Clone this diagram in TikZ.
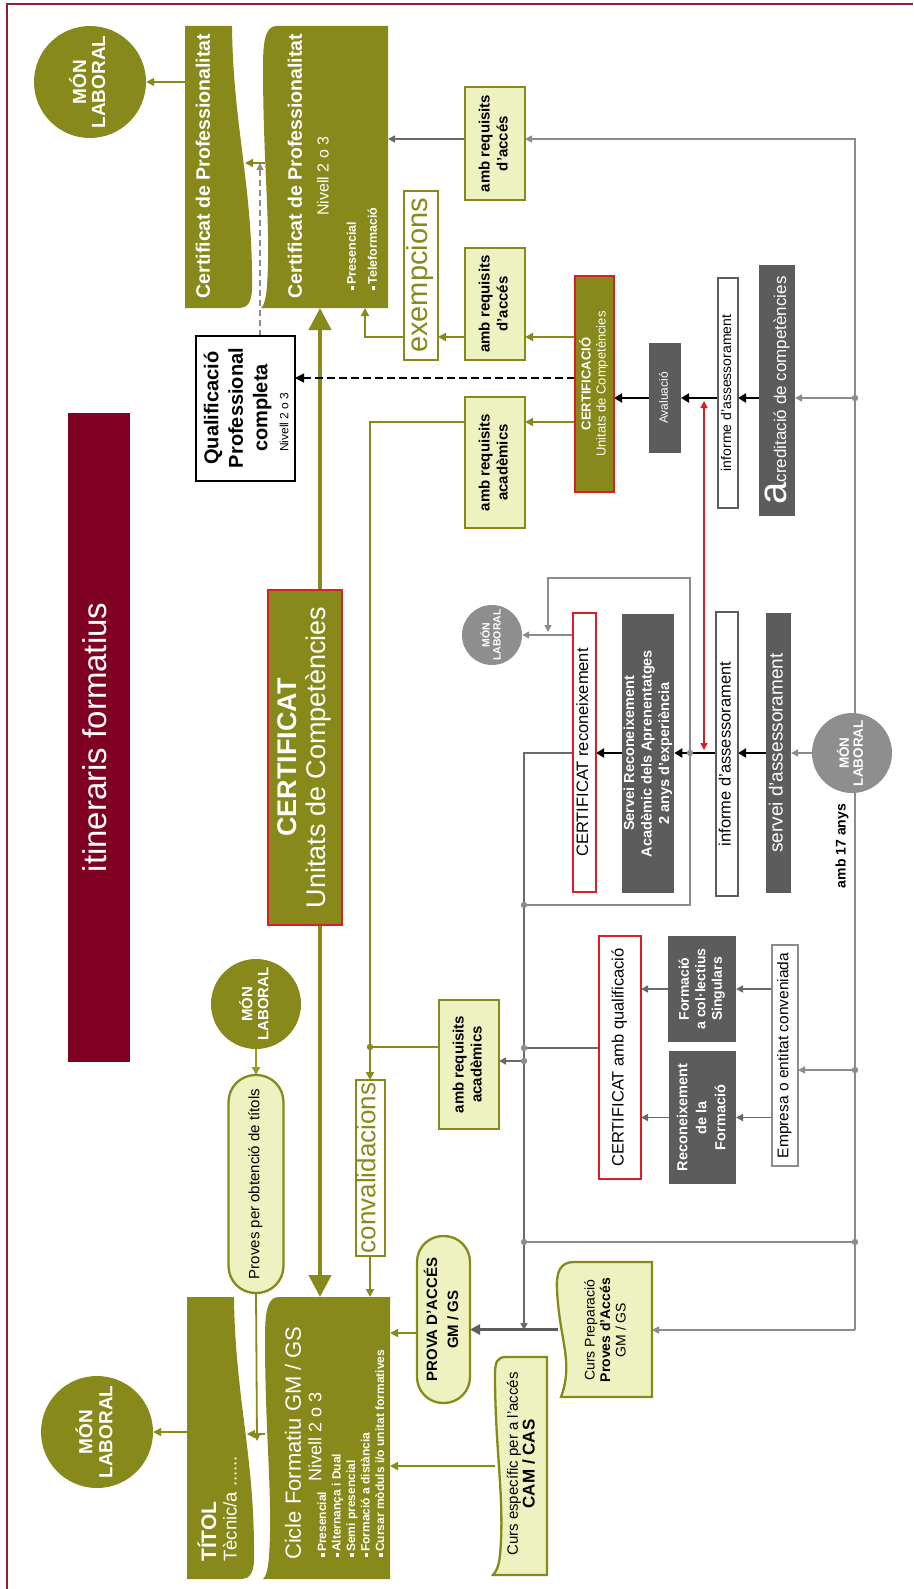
\documentclass[tikz,border=0pt]{standalone}
\usepackage{fontspec}
\setmainfont{Liberation Sans}
\usepackage{graphicx}
\usetikzlibrary{arrows.meta,backgrounds}
\definecolor{olv}{RGB}{135,138,26}
\definecolor{lyel}{RGB}{238,242,192}
\definecolor{dgr}{RGB}{92,92,92}
\definecolor{mgr}{RGB}{105,105,105}
\definecolor{lgr}{RGB}{140,140,140}
\definecolor{cgr}{RGB}{142,142,142}
\definecolor{wine}{RGB}{128,0,35}
\definecolor{rred}{RGB}{222,28,38}
\definecolor{frm}{RGB}{145,30,50}
\newcommand{\fsz}[2]{\fontsize{#1}{#2}\selectfont}
\newcommand{\rtx}[2]{\rotatebox{90}{#1\begin{tabular}{@{}c@{}}#2\end{tabular}}}
\newcommand{\sqb}{\rule[0.12em]{0.3em}{0.3em}\hspace{0.12em}}
\newcommand{\twopiece}{%
 \fill[olv] (0,0) -- (47,0) .. controls (48,100) and (68,160) .. (67,262) .. controls (67,276) and (62,282) .. (55,282) -- (0,282) -- cycle;
 \fill[olv] (92,0) -- (203,0) -- (203,282) -- (76,282) .. controls (79,280) and (81,272) .. (82,260) .. controls (86,200) and (78,140) .. (78,40) .. controls (78,10) and (82,0) .. (92,0) -- cycle;}
\begin{document}
\begin{tikzpicture}[x=1pt, y=-1pt,
 box/.style={rectangle, inner sep=0pt, outer sep=0pt},
 ybox/.style={box, draw=olv, line width=2.3pt, fill=lyel},
 gbox/.style={box, fill=dgr, text=white},
 wbox/.style={box, draw=dgr, line width=1.6pt, fill=white},
 rbox/.style={box, draw=rred, line width=2pt, fill=white},
 circ/.style={circle, inner sep=0pt, text=white, font=\bfseries},
 oln/.style={draw=olv, line width=1.8pt},
 oarr/.style={oln, -{Triangle[length=8pt,width=8pt]}},
 gln/.style={draw=lgr, line width=1.5pt},
 garr/.style={gln, -{Triangle[length=7pt,width=7pt]}},
 mln/.style={draw=mgr, line width=1.6pt},
 marr/.style={mln, -{Triangle[length=7pt,width=7pt]}},
 barr/.style={draw=black, line width=1.8pt, -{Triangle[length=8pt,width=9pt]}},
 bigarr/.style={draw=olv, line width=4pt, -{Triangle[length=22pt,width=22pt]}},
 txt/.style={inner sep=0pt}
]
\useasboundingbox (0,0) rectangle (913,1589);

% ---------- shapes with wavy edges
\begin{scope}[shift={(185,26)}]\twopiece\end{scope}
\begin{scope}[shift={(187,1297)}]\twopiece\end{scope}
\filldraw[fill=lyel, draw=olv, line width=2.3pt] (652,1262) -- (574,1262) .. controls (560,1262) and (556,1272) .. (557,1290) .. controls (559,1330) and (568,1350) .. (566,1375) .. controls (565,1385) and (563,1392) .. (561,1397) -- (652,1397) -- cycle;
\filldraw[fill=lyel, draw=olv, line width=2.3pt] (547,1357) -- (506,1357) .. controls (497,1357) and (495,1362) .. (495,1375) .. controls (495,1450) and (505,1500) .. (500,1555) .. controls (499,1566) and (496,1572) .. (493,1575) -- (547,1575) -- cycle;

% ---------- invisible anchors for the wavy shapes
\node[box, minimum width=60pt, minimum height=282pt] (cpL) at (215,167) {};
\node[box, minimum width=123pt, minimum height=282pt] (cpR) at (326.5,167) {};
\node[box, minimum width=60pt, minimum height=283pt] (titol) at (217,1438.5) {};
\node[box, minimum width=125pt, minimum height=283pt] (cicle) at (327.5,1438.5) {};
\node[box, minimum width=94pt, minimum height=135pt] (cursPrep) at (605,1329.5) {};
\node[box, minimum width=52pt, minimum height=218pt] (cursEsp) at (521,1466) {};

% ---------- texts on wavy shapes
\node[txt, text=white, font=\bfseries] at (203,166) {\rotatebox{90}{\fsz{19.5}{22}Certificat de Professionalitat}};
\node[txt, text=white, font=\bfseries] at (295,166) {\rotatebox{90}{\fsz{19.5}{22}Certificat de Professionalitat}};
\node[txt, text=white] at (323,176) {\rotatebox{90}{\fsz{16}{18}Nivell 2 o 3}};
\node[txt, rotate=90, anchor=west, align=left, text=white, font=\bfseries\fsz{12.5}{21}] at (362,290) {\sqb Presencial\\\sqb Teleformació};
\node[txt, rotate=90, anchor=west, text=white, font=\bfseries\fsz{21}{24}] at (207,1562) {TÍTOL};
\node[txt, rotate=90, anchor=west, text=white, font=\fsz{18.5}{20}] at (230,1562) {Tècnic/a ......};
\node[txt, rotate=90, anchor=west, text=white, font=\fsz{22}{24}] at (293,1560) {Cicle Formatiu GM / GS};
\node[txt, text=white] at (315,1437) {\rotatebox{90}{\fsz{18}{20}Nivell 2 o 3}};
\node[txt, rotate=90, anchor=west, align=left, text=white, font=\bfseries\fsz{12}{14.5}] at (351,1557) {\sqb Presencial\\\sqb Alternança i Dual\\\sqb Semi presencial\\\sqb Formació a distància\\\sqb Cursar mòduls i/o unitat formatives};
\node[txt] at (607,1330) {\rtx{\fsz{14}{15.5}}{Curs Preparació\\\bfseries Proves d'Accés\\GM / GS}};
\node[txt] at (523,1464) {\rtx{\fsz{15}{15}}{Curs específic per a l'accés\\\bfseries\fsz{17}{15}CAM / CAS}};

% ---------- circles
\node[circ, fill=olv, minimum size=112pt] (mlTop) at (90,82) {\rtx{\fsz{19}{19}}{MÓN\\LABORAL}};
\node[circ, fill=olv, minimum size=90pt] (mlMid) at (256,1004) {\rtx{\fsz{15}{16}}{MÓN\\LABORAL}};
\node[circ, fill=olv, minimum size=112pt] (mlBot) at (97,1432) {\rtx{\fsz{19}{20}}{MÓN\\LABORAL}};
\node[circ, fill=cgr, minimum size=60pt] (mlG1) at (492,635) {\rtx{\fsz{10.5}{11}}{MÓN\\LABORAL}};
\node[circ, fill=cgr, minimum size=80pt] (mlG2) at (852,753) {\rtx{\fsz{13.5}{14}}{MÓN\\LABORAL}};

% ---------- boxes
\node[box, fill=wine, text=white, minimum width=62pt, minimum height=649pt] (title) at (99,737.5) {\rtx{\fsz{33}{36}}{itineraris formatius}};
\node[box, draw=black, line width=2.5pt, fill=white, minimum width=99pt, minimum height=145pt] (qual) at (245.5,408.5) {};
\node[txt, font=\bfseries] at (238,408) {\rtx{\fsz{20}{24.5}}{Qualificació\\Professional\\completa}};
\node[txt] at (284,422) {\rotatebox{90}{\fsz{12}{14}Nivell 2 o 3}};
\node[box, fill=olv, draw=rred, line width=2pt, text=white, minimum width=74pt, minimum height=335pt] (cert) at (305,757.5) {\rtx{\fsz{27}{29}}{\bfseries CERTIFICAT\\Unitats de Competències}};
\node[box, draw=olv, line width=2pt, fill=white, text=olv, minimum width=34pt, minimum height=169pt] (exem) at (421,275.5) {\rtx{\fsz{29}{30}}{exempcions}};
\node[ybox, minimum width=60pt, minimum height=113pt, font=\bfseries] (reqAcc1) at (495,143.5) {\rtx{\fsz{15}{18}}{amb requisits\\d'accés}};
\node[ybox, minimum width=60pt, minimum height=112pt, font=\bfseries] (reqAcc2) at (495,304) {\rtx{\fsz{15}{18}}{amb requisits\\d'accés}};
\node[ybox, minimum width=60pt, minimum height=131pt, font=\bfseries] (reqAcad1) at (495,462.5) {\rtx{\fsz{15}{18}}{amb requisits\\acadèmics}};
\node[ybox, minimum width=60pt, minimum height=129pt, font=\bfseries] (reqAcad2) at (469,1064.5) {\rtx{\fsz{15}{18}}{amb requisits\\acadèmics}};
\node[box, fill=olv, draw=rred, line width=2pt, text=white, minimum width=39pt, minimum height=216pt] (certifn) at (594.5,384) {\rtx{\fsz{13}{15}}{\bfseries CERTIFICACIÓ\\Unitats de Competències}};
\node[gbox, minimum width=32pt, minimum height=110pt] (aval) at (665,398) {\rtx{\fsz{12}{14}}{Avaluació}};
\node[wbox, minimum width=20pt, minimum height=230pt] (inf1) at (728,393) {\rtx{\fsz{14}{16}}{informe d'assessorament}};
\node[gbox, minimum width=36pt, minimum height=251pt] (acred) at (777,390.5) {\rotatebox{90}{\fsz{40}{40}a\fsz{17}{20}creditació de competències}};
\node[wbox, minimum width=22pt, minimum height=284pt] (inf2) at (727,754) {\rtx{\fsz{16.5}{18}}{informe d'assessorament}};
\node[gbox, minimum width=25pt, minimum height=280pt] (servAss) at (778.5,753) {\rtx{\fsz{19}{20}}{servei d'assessorament}};
\node[gbox, minimum width=50pt, minimum height=279pt, font=\bfseries] (servRec) at (648,753.5) {\rtx{\fsz{14.5}{17.5}}{Servei Reconeixement\\Acadèmic dels Aprenentatges\\2 anys d'experiència}};
\node[rbox, minimum width=23pt, minimum height=279pt] (certRec) at (584.5,752.5) {\rtx{\fsz{16.5}{18}}{CERTIFICAT reconeixement}};
\node[txt, font=\bfseries] (a17) at (842,846) {\rotatebox{90}{\fsz{14}{16}amb 17 anys}};
\node[rbox, line width=2.5pt, minimum width=42pt, minimum height=243pt] (certAQ) at (620,1057.5) {\rtx{\fsz{16.5}{18}}{CERTIFICAT amb qualificació}};
\node[gbox, minimum width=68pt, minimum height=106pt, font=\bfseries] (formCol) at (702,989) {\rtx{\fsz{14}{16.5}}{Formació\\a col·lectius\\Singulars}};
\node[gbox, minimum width=67pt, minimum height=133pt, font=\bfseries] (recForm) at (702.5,1117.5) {\rtx{\fsz{14.5}{19}}{Reconeixement\\de la\\Formació}};
\node[wbox, draw=lgr, minimum width=26pt, minimum height=221pt] (empresa) at (785,1055.5) {\rtx{\fsz{15.5}{17}}{Empresa o entitat conveniada}};
\node[ybox, rounded corners=27pt, minimum width=55pt, minimum height=218pt] (proves) at (256,1184) {\rtx{\fsz{15}{17}}{Proves per obtenció de títols}};
\node[box, draw=olv, line width=2pt, fill=white, text=olv, minimum width=29pt, minimum height=176pt] (conv) at (370,1168) {\rtx{\fsz{26}{27}}{convalidacions}};
\node[ybox, rounded corners=26pt, minimum width=53pt, minimum height=167pt, font=\bfseries] (prova) at (443.5,1319.5) {\rtx{\fsz{15}{21}}{PROVA D'ACCÉS\\GM / GS}};

% ---------- coordinates
\coordinate (tk) at (320,0);
\coordinate (gT) at (260,163);
\coordinate (bT) at (855,139);
\coordinate (bB) at (855,1330);
\coordinate (b1) at (855,398);
\coordinate (b2) at (855,1070);
\coordinate (b3) at (855,1242);
\coordinate (l3) at (524,1242);
\coordinate (ay) at (0,398);
\coordinate (ly) at (0,753);
\coordinate (rA) at (704,401);
\coordinate (rB) at (704,750);
\coordinate (oe) at (365,337);
\coordinate (qy) at (0,378);
\coordinate (oc1) at (370,422);
\coordinate (oc2) at (370,1047);
\coordinate (d1) at (690,753);
\coordinate (lp1) at (690,578);
\coordinate (lp2) at (548,578);
\coordinate (lp3) at (548,632);
\coordinate (d2) at (690,905);
\coordinate (d3) at (524,905);
\coordinate (lB) at (524,1330);
\coordinate (d4) at (524,1048);
\coordinate (d5) at (524,1061);
\coordinate (py) at (0,1333);
\coordinate (gB) at (257,1441);
\coordinate (gy) at (0,1434);

\begin{pgfonlayer}{background}
\fill[white] (0,0) rectangle (913,1589);
\draw[frm, line width=1.6pt] (7,1589) -- (7,4) -- (913,4);
% big olive arrows
\draw[bigarr] (cert.north -| tk) -- (cpR.south -| tk);
\draw[bigarr] (cert.south -| tk) -- (cicle.north -| tk);
% top area
\draw[oarr, line width=1.2pt] (cpL.west |- mlTop.east) -- (mlTop.east);
\draw[oarr, line width=1.2pt] (cpR.west |- gT) -- (cpL.east |- gT);
\draw[gln, dashed, dash pattern=on 6pt off 4pt, -{Triangle[length=7pt,width=7pt]}] (qual.north -| gT) -- (gT);
\draw[marr] (reqAcc1.west |- bT) -- (cpR.east |- bT);
% right bus
\draw[garr] (bB) -- (bT) -- (bT -| reqAcc1.east);
\draw[garr] (bB) -- (bB -| cursPrep.east);
\draw[garr] (b1) -- (b1 -| acred.east);
\draw[garr] (b2) -- (b2 -| empresa.east);
\draw[gln] (b3) -- (l3);
\draw[garr] (mlG2.west) -- (mlG2.west -| servAss.east);
% black chains
\draw[barr] (acred.west |- ay) -- (inf1.east |- ay);
\draw[barr] (inf1.west |- ay) -- (aval.east |- ay);
\draw[barr] (aval.west |- ay) -- (certifn.east |- ay);
\draw[barr] (servAss.west |- ly) -- (inf2.east |- ly);
\draw[barr] (inf2.west |- ly) -- (servRec.east |- ly);
\draw[barr] (servRec.west |- ly) -- (certRec.east |- ly);
\draw[draw=rred, line width=1.3pt, {Triangle[length=7pt,width=7pt]}-{Triangle[length=7pt,width=7pt]}] (rA) -- (rB);
% olive from CERTIFICACIO
\draw[oarr] (certifn.west |- oe) -- (reqAcc2.east |- oe);
\draw[oarr] (reqAcc2.west |- oe) -- (exem.east |- oe);
\draw[oarr] (exem.west |- oe) -- (oe) -- (oe |- cpR.south);
\draw[draw=black, line width=1.5pt, dash pattern=on 8pt off 4pt, -{Triangle[length=9pt,width=9pt]}] (certifn.west |- qy) -- (qual.east |- qy);
\draw[oarr] (certifn.west |- oc1) -- (reqAcad1.east |- oc1);
\draw[oarr] (reqAcad1.west |- oc1) -- (oc1) -- (conv.north);
\draw[oln] (reqAcad2.west |- oc2) -- (oc2);
\draw[oarr] (conv.south) -- (conv.south |- cicle.north);
% grey middle
\draw[garr] (certRec.west |- mlG1.east) -- (mlG1.east);
\draw[garr] (d1) -- (lp1) -- (lp2) -- (lp3);
\draw[gln] (d1) -- (d2) -- (d3);
\draw[marr] (certRec.west |- ly) -- (lB |- ly) -- (lB);
\draw[mln] (certAQ.west |- d4) -- (d4);
\draw[marr] (d5) -- (d5 -| reqAcad2.east);
\draw[marr] (empresa.west |- formCol.east) -- (formCol.east);
\draw[marr] (empresa.west |- recForm.east) -- (recForm.east);
\draw[marr] (formCol.west) -- (formCol.west -| certAQ.east);
\draw[marr] (recForm.west) -- (recForm.west -| certAQ.east);
% bottom
\draw[draw=dgr, line width=3pt, -{Triangle[length=10pt,width=10pt]}] (cursPrep.west) -- (cursPrep.west -| prova.east);
\draw[oarr] (prova.west |- py) -- (cicle.east |- py);
\draw[oarr] (cursEsp.west) -- (cursEsp.west -| cicle.east);
\draw[oarr, draw=olv!85!yellow] (mlMid.south) -- (proves.north);
\draw[oarr] (proves.south) -- (gB);
\draw[oarr, line width=1.2pt] (cicle.west |- gy) -- (titol.east |- gy);
\draw[oarr, line width=1.2pt] (titol.west |- mlBot.east) -- (mlBot.east);
\end{pgfonlayer}

% dots
\foreach \p in {b1,b2,b3,l3,d1,d3,d4,d5} \fill[lgr] (\p) circle (3.2pt);
\fill[olv] (oc2) circle (3.2pt);
\end{tikzpicture}
\end{document}
